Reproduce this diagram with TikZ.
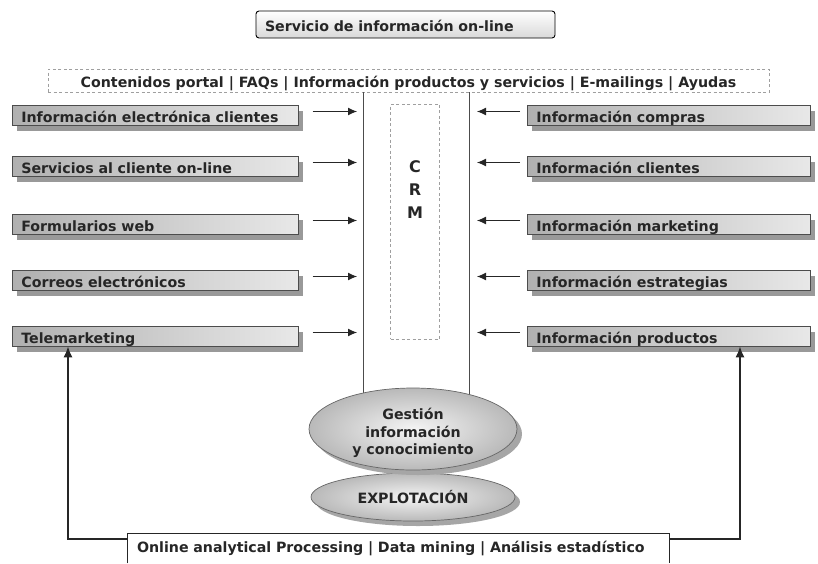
\documentclass[tikz,border=0pt]{standalone}
\usepackage{fontspec}
\setmainfont{DejaVu Sans}
\usetikzlibrary{shapes.geometric,shadows,arrows.meta,calc}
\begin{document}
\begin{tikzpicture}[x=1pt,y=-1pt,
  txt/.style={font=\bfseries\fontsize{14.2}{17.5}\selectfont, text=black!85},
  box/.style={txt, draw=black!70, line width=0.7pt, left color=gray!62, right color=gray!18,
    drop shadow={shadow xshift=5pt, shadow yshift=-6pt, fill=gray!80, opacity=1},
    anchor=west, text width=268pt, inner xsep=9pt, inner ysep=0pt, minimum height=20pt,
    align=left, text height=15pt, text depth=0pt},
  arr/.style={-{Latex[length=9pt,width=8pt]}, line width=1pt, black!85},
  uparr/.style={-{Latex[length=11pt,width=9pt]}, line width=1.6pt, black!85},
  dbox/.style={draw=gray!75, line width=0.8pt, dash pattern=on 3pt off 2.5pt},
  colline/.style={draw=black!70, line width=0.8pt},
  ell/.style={ellipse, draw=black!60, line width=0.7pt, shading=radial, inner color=gray!8,
    outer color=gray!55, drop shadow={shadow xshift=5pt, shadow yshift=-5pt, fill=gray!70, opacity=1},
    txt, align=center, inner sep=0pt},
]
\useasboundingbox (0,0) rectangle (818,563);

% top box
\node[txt, draw=black, line width=0.9pt, rounded corners=3pt, top color=white, bottom color=gray!30,
  minimum width=299pt, minimum height=27pt, inner ysep=0pt, inner xsep=9pt, text width=281pt,
  align=left, text height=14pt, text depth=0pt] (svc) at (405.5,24.5)
  {Servicio de información on-line};

% dashed portal box
\node[txt, dbox, minimum width=721pt, minimum height=23pt, inner sep=0pt,
  text height=14.5pt, text depth=0pt] (portal) at (408.5,80.5)
  {Contenidos portal | FAQs | Información productos y servicios | E-mailings | Ayudas};

% CRM column
\coordinate (cl) at (363,92);
\coordinate (cr) at (469,92);
\coordinate (clb) at (363,405);
\coordinate (crb) at (469,405);
\draw[colline] (cl) -- (clb);
\draw[colline] (cr) -- (crb);
\node[dbox, minimum width=49pt, minimum height=235pt, inner sep=0pt] (crm) at (415,221.5) {};
\node[txt, font=\bfseries\fontsize{16}{23}\selectfont, align=center] (crmtxt) at (415,190) {C\\R\\M};

% left boxes
\node[box] (l1) at (12,115) {Información electrónica clientes};
\node[box] (l2) at (12,166) {Servicios al cliente on-line};
\node[box] (l3) at (12,224) {Formularios web};
\node[box] (l4) at (12,280) {Correos electrónicos};
\node[box] (l5) at (12,336) {Telemarketing};

% right boxes
\node[box, text width=265pt] (r1) at (527,115) {Información compras};
\node[box, text width=265pt] (r2) at (527,166) {Información clientes};
\node[box, text width=265pt] (r3) at (527,224) {Información marketing};
\node[box, text width=265pt] (r4) at (527,280) {Información estrategias};
\node[box, text width=265pt] (r5) at (527,336) {Información productos};

% arrows into column
\foreach \n in {1,...,5}{
  \draw[arr] ($(l\n.east)+(14,-3.5)$) -- ($(cl |- l\n.east)+(-6,-3.5)$);
  \draw[arr] ($(r\n.west)+(-7,-3.5)$) -- ($(cr |- r\n.west)+(8,-3.5)$);
}

% ellipses
\node[ell, minimum width=204pt, minimum height=48pt] (expl) at (413,497) {EXPLOTACIÓN};
\node[ell, minimum width=208pt, minimum height=82pt] (gest) at (413,429) {};
\node[txt, align=center, inner sep=0pt] (gesttxt) at (413,433) {Gestión\\información\\y conocimiento};

% bottom box and loop
\node[txt, minimum width=541pt, minimum height=30pt, inner ysep=0pt, inner xsep=9pt, text width=523pt,
  align=left, anchor=north] (olap) at (398.5,533)
  {Online analytical Processing | Data mining | Análisis estadístico};
\draw[line width=1pt, black!85] (olap.south west) -- (olap.north west) -- (olap.north east) -- (olap.south east);
\coordinate (lc) at (68,539);
\coordinate (rc) at (740,539);
\draw[uparr] (olap.west |- lc) -| (l5.south -| lc);
\draw[uparr] (olap.east |- rc) -| (r5.south -| rc);
\end{tikzpicture}
\end{document}
